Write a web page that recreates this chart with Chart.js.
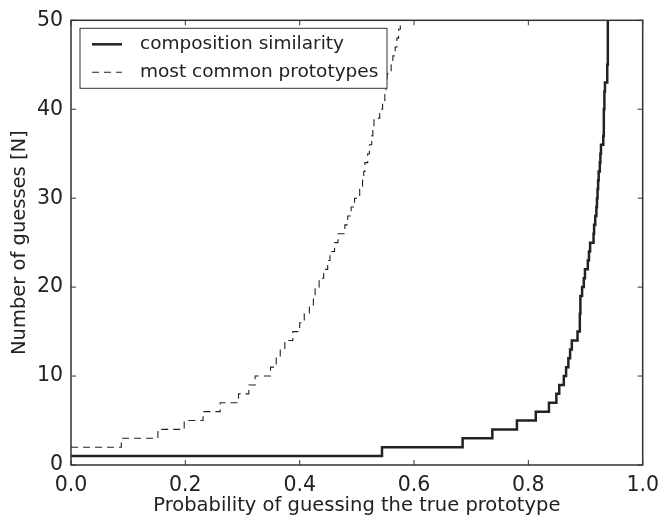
<!DOCTYPE html>
<html>
<head>
<meta charset="utf-8">
<script src="https://cdn.jsdelivr.net/npm/chart.js@4/dist/chart.umd.min.js"></script>
<style>
  html, body { margin: 0; padding: 0; background: #fff; }
  #wrap { width: 667px; height: 520px; }
</style>
</head>
<body>
<div id="wrap"><canvas id="guessChart"></canvas></div>
<script>
// number of guesses N and the probability at which that level starts
const compGuesses = [1, 2, 3, 4, 5, 6, 7, 8, 9, 10, 11, 12, 13, 14, 15, 16, 17, 18, 19, 20,
    21, 22, 23, 24, 25, 26, 27, 28, 29, 30, 31, 32, 33, 34, 35, 36, 37, 38, 39, 40,
    41, 42, 43, 44, 45, 46, 47, 48, 49, 50];
const compProb = [0, 0.544, 0.685, 0.737, 0.780, 0.813, 0.836, 0.849, 0.854, 0.862,
    0.866, 0.870, 0.873, 0.876, 0.886, 0.890, 0.890, 0.891, 0.891, 0.894,
    0.897, 0.899, 0.904, 0.906, 0.908, 0.914, 0.915, 0.917, 0.919, 0.920,
    0.921, 0.922, 0.923, 0.925, 0.926, 0.927, 0.931, 0.932, 0.932, 0.932,
    0.933, 0.933, 0.934, 0.938, 0.938, 0.939, 0.939, 0.939, 0.939, 0.939];

const protoGuesses = [2, 3, 4, 5, 6, 7, 8, 9, 10, 11, 12, 13, 14, 15, 16, 17, 18, 19, 20,
    21, 22, 23, 24, 25, 26, 27, 28, 29, 30, 31, 32, 33, 34, 35, 36, 37, 38, 39, 40,
    41, 42, 43, 44, 45, 46, 47, 48, 49, 50];
const protoProb = [0, 0.088, 0.152, 0.198, 0.231, 0.261, 0.293, 0.311, 0.322,
    0.349, 0.359, 0.366, 0.374, 0.388, 0.400, 0.408, 0.417, 0.424, 0.427,
    0.434, 0.442, 0.449, 0.453, 0.461, 0.467, 0.479, 0.484, 0.490, 0.496,
    0.505, 0.510, 0.512, 0.514, 0.519, 0.522, 0.526, 0.528, 0.530, 0.540,
    0.545, 0.549, 0.551, 0.553, 0.560, 0.563, 0.567, 0.570, 0.573, 0.576];

const xTicks = [0, 0.2, 0.4, 0.6, 0.8, 1.0];
const yTicks = [0, 10, 20, 30, 40, 50];
const seriesNames = ['composition similarity', 'most common prototypes'];

const ink = '#222222';
const fontFam = '"DejaVu Sans", sans-serif';

// matplotlib style frame: box on all sides, ticks pointing inward, legend box inside
const framePlugin = {
    id: 'frame',
    afterDraw(chart) {
        const ctx = chart.ctx;
        const a = chart.chartArea;
        const xs = chart.scales.x, ys = chart.scales.y;
        ctx.save();
        ctx.strokeStyle = '#333';
        ctx.lineWidth = 1.5;
        ctx.setLineDash([]);
        ctx.strokeRect(a.left, a.top, a.right - a.left, a.bottom - a.top);
        ctx.lineWidth = 1;
        const tl = 5;
        xTicks.forEach(v => {
            const px = xs.getPixelForValue(v);
            ctx.beginPath();
            ctx.moveTo(px, a.bottom); ctx.lineTo(px, a.bottom - tl);
            ctx.moveTo(px, a.top); ctx.lineTo(px, a.top + tl);
            ctx.stroke();
        });
        yTicks.forEach(v => {
            const py = ys.getPixelForValue(v);
            ctx.beginPath();
            ctx.moveTo(a.left, py); ctx.lineTo(a.left + tl, py);
            ctx.moveTo(a.right, py); ctx.lineTo(a.right - tl, py);
            ctx.stroke();
        });

        // legend
        const bx = a.left + 9, by = a.top + 8, bw = 307, bh = 60;
        ctx.fillStyle = '#fff';
        ctx.fillRect(bx, by, bw, bh);
        ctx.strokeStyle = '#333';
        ctx.lineWidth = 1;
        ctx.strokeRect(bx, by, bw, bh);
        const rows = [by + 16, by + 44];
        chart.data.datasets.forEach((ds, i) => {
            ctx.beginPath();
            ctx.strokeStyle = ds.borderColor;
            ctx.lineWidth = ds.borderWidth;
            ctx.setLineDash(ds.borderDash || []);
            ctx.moveTo(bx + 12, rows[i]);
            ctx.lineTo(bx + 42, rows[i]);
            ctx.stroke();
            ctx.setLineDash([]);
            ctx.fillStyle = ink;
            ctx.font = '18.5px ' + fontFam;
            ctx.textBaseline = 'middle';
            ctx.textAlign = 'left';
            ctx.fillText(seriesNames[i], bx + 60, rows[i]);
        });
        ctx.restore();
    }
};

const ctx = document.getElementById('guessChart').getContext('2d');
new Chart(ctx, {
    type: 'line',
    data: {
        datasets: [
            {
                label: seriesNames[0],
                data: compGuesses.map((n, i) => ({ x: compProb[i], y: n })),
                stepped: 'before',
                borderColor: ink,
                borderWidth: 2.5,
                pointRadius: 0,
                fill: false
            },
            {
                label: seriesNames[1],
                data: protoGuesses.map((n, i) => ({ x: protoProb[i], y: n })),
                stepped: 'before',
                borderColor: ink,
                borderWidth: 1.1,
                borderDash: [7, 5],
                pointRadius: 0,
                fill: false
            }
        ]
    },
    options: {
        responsive: true,
        maintainAspectRatio: false,
        animation: false,
        layout: { padding: { top: 20, right: 20, left: 0, bottom: 0 } },
        plugins: {
            legend: { display: false },
            tooltip: { enabled: false }
        },
        scales: {
            x: {
                type: 'linear',
                min: 0,
                max: 1,
                afterFit: (s) => { s.height = 55; },
                afterBuildTicks: (s) => { s.ticks = xTicks.map(v => ({ value: v })); },
                grid: { display: false, drawTicks: false },
                border: { display: false },
                ticks: {
                    color: ink,
                    padding: 8,
                    maxRotation: 0,
                    font: { family: fontFam, size: 20.5 },
                    callback: (v) => v.toFixed(1)
                },
                title: {
                    display: true,
                    text: 'Probability of guessing the true prototype',
                    color: ink,
                    font: { family: fontFam, size: 19.5 },
                    padding: { top: 0, bottom: 2 }
                }
            },
            y: {
                type: 'linear',
                min: 0,
                max: 50,
                afterFit: (s) => { s.width = 71; },
                afterBuildTicks: (s) => { s.ticks = yTicks.map(v => ({ value: v })); },
                grid: { display: false, drawTicks: false },
                border: { display: false },
                ticks: {
                    color: ink,
                    padding: 8,
                    font: { family: fontFam, size: 20.5 }
                },
                title: {
                    display: true,
                    text: 'Number of guesses [N]',
                    color: ink,
                    font: { family: fontFam, size: 19.5 },
                    padding: { top: 8, bottom: 0 }
                }
            }
        }
    },
    plugins: [framePlugin]
});
</script>
</body>
</html>
